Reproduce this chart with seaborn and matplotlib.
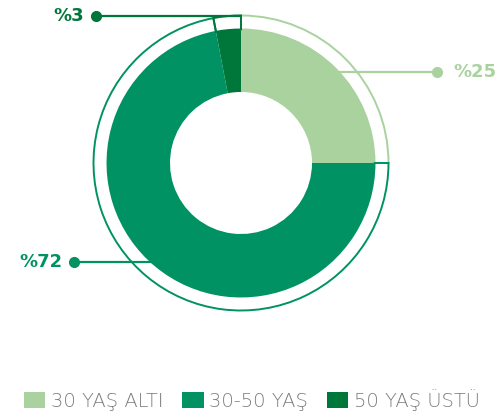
import matplotlib.pyplot as plt
import seaborn as sns
from matplotlib.patches import Patch

categories = ['30 YAŞ ALTI', '30-50 YAŞ', '50 YAŞ ÜSTÜ']
shares = [25, 72, 3]
colors = ['#a9d29e', '#009262', '#00773a']

# label placement in pixel units of the 501x411 picture (x from left, y from top)
label_dots = [(437, 72), (74, 262), (96, 16)]
line_ends = [(337, 72), (152, 262), (241, 16)]

W, H = 501, 411
CX, CY = 241, 163
R = 133.5
R_RING = 147.5


def px(x, y):
    return (x - CX) / R, (CY - y) / R


sns.set_style('white')
plt.rcParams['font.family'] = ['DejaVu Sans']

fig = plt.figure(figsize=(W / 100, H / 100), dpi=100)
ax = fig.add_axes([0, 0, 1, 1])

# solid donut
wedges, _ = ax.pie(shares, colors=colors, startangle=90, counterclock=False,
                   radius=1.0, wedgeprops=dict(width=62.5 / R, linewidth=0))

# thin outline ring around each segment
ring, _ = ax.pie(shares, colors=['none'] * 3, startangle=90, counterclock=False,
                 radius=R_RING / R, wedgeprops=dict(width=(R_RING - R) / R, linewidth=1.4))
for w, c in zip(ring, colors):
    w.set_edgecolor(c)
    w.set_facecolor('none')

for val, c, dot, end, side in zip(shares, colors, label_dots, line_ends, ['left', 'right', 'right']):
    dx, dy = px(*dot)
    ex, ey = px(*end)
    ax.plot([dx, ex], [dy, ey], color=c, lw=1.6, solid_capstyle='butt', zorder=5)
    ax.plot(dx, dy, 'o', color=c, markersize=7, zorder=6)
    off = 16 / R if side == 'left' else -12 / R
    ax.text(dx + off, dy, f'%{val}', color=c, fontsize=13, fontweight='bold',
            ha=side, va='center')

# pie resets the limits, so fix them afterwards
ax.set_xlim(-CX / R, (W - CX) / R)
ax.set_ylim(-(H - CY) / R, CY / R)
ax.set_aspect('equal', adjustable='datalim')
ax.axis('off')

handles = [Patch(facecolor=c, edgecolor='none') for c in colors]
fig.legend(handles, categories, loc='center', bbox_to_anchor=(252 / W, 1 - 400 / H),
           ncol=3, frameon=False, prop=dict(size=14, weight='light'), labelcolor='#7c7c7c',
           handlelength=1.1, handleheight=0.85, handletextpad=0.3, columnspacing=0.95,
           borderpad=0, borderaxespad=0)

fig.savefig('out.png', dpi=100, facecolor='white')
